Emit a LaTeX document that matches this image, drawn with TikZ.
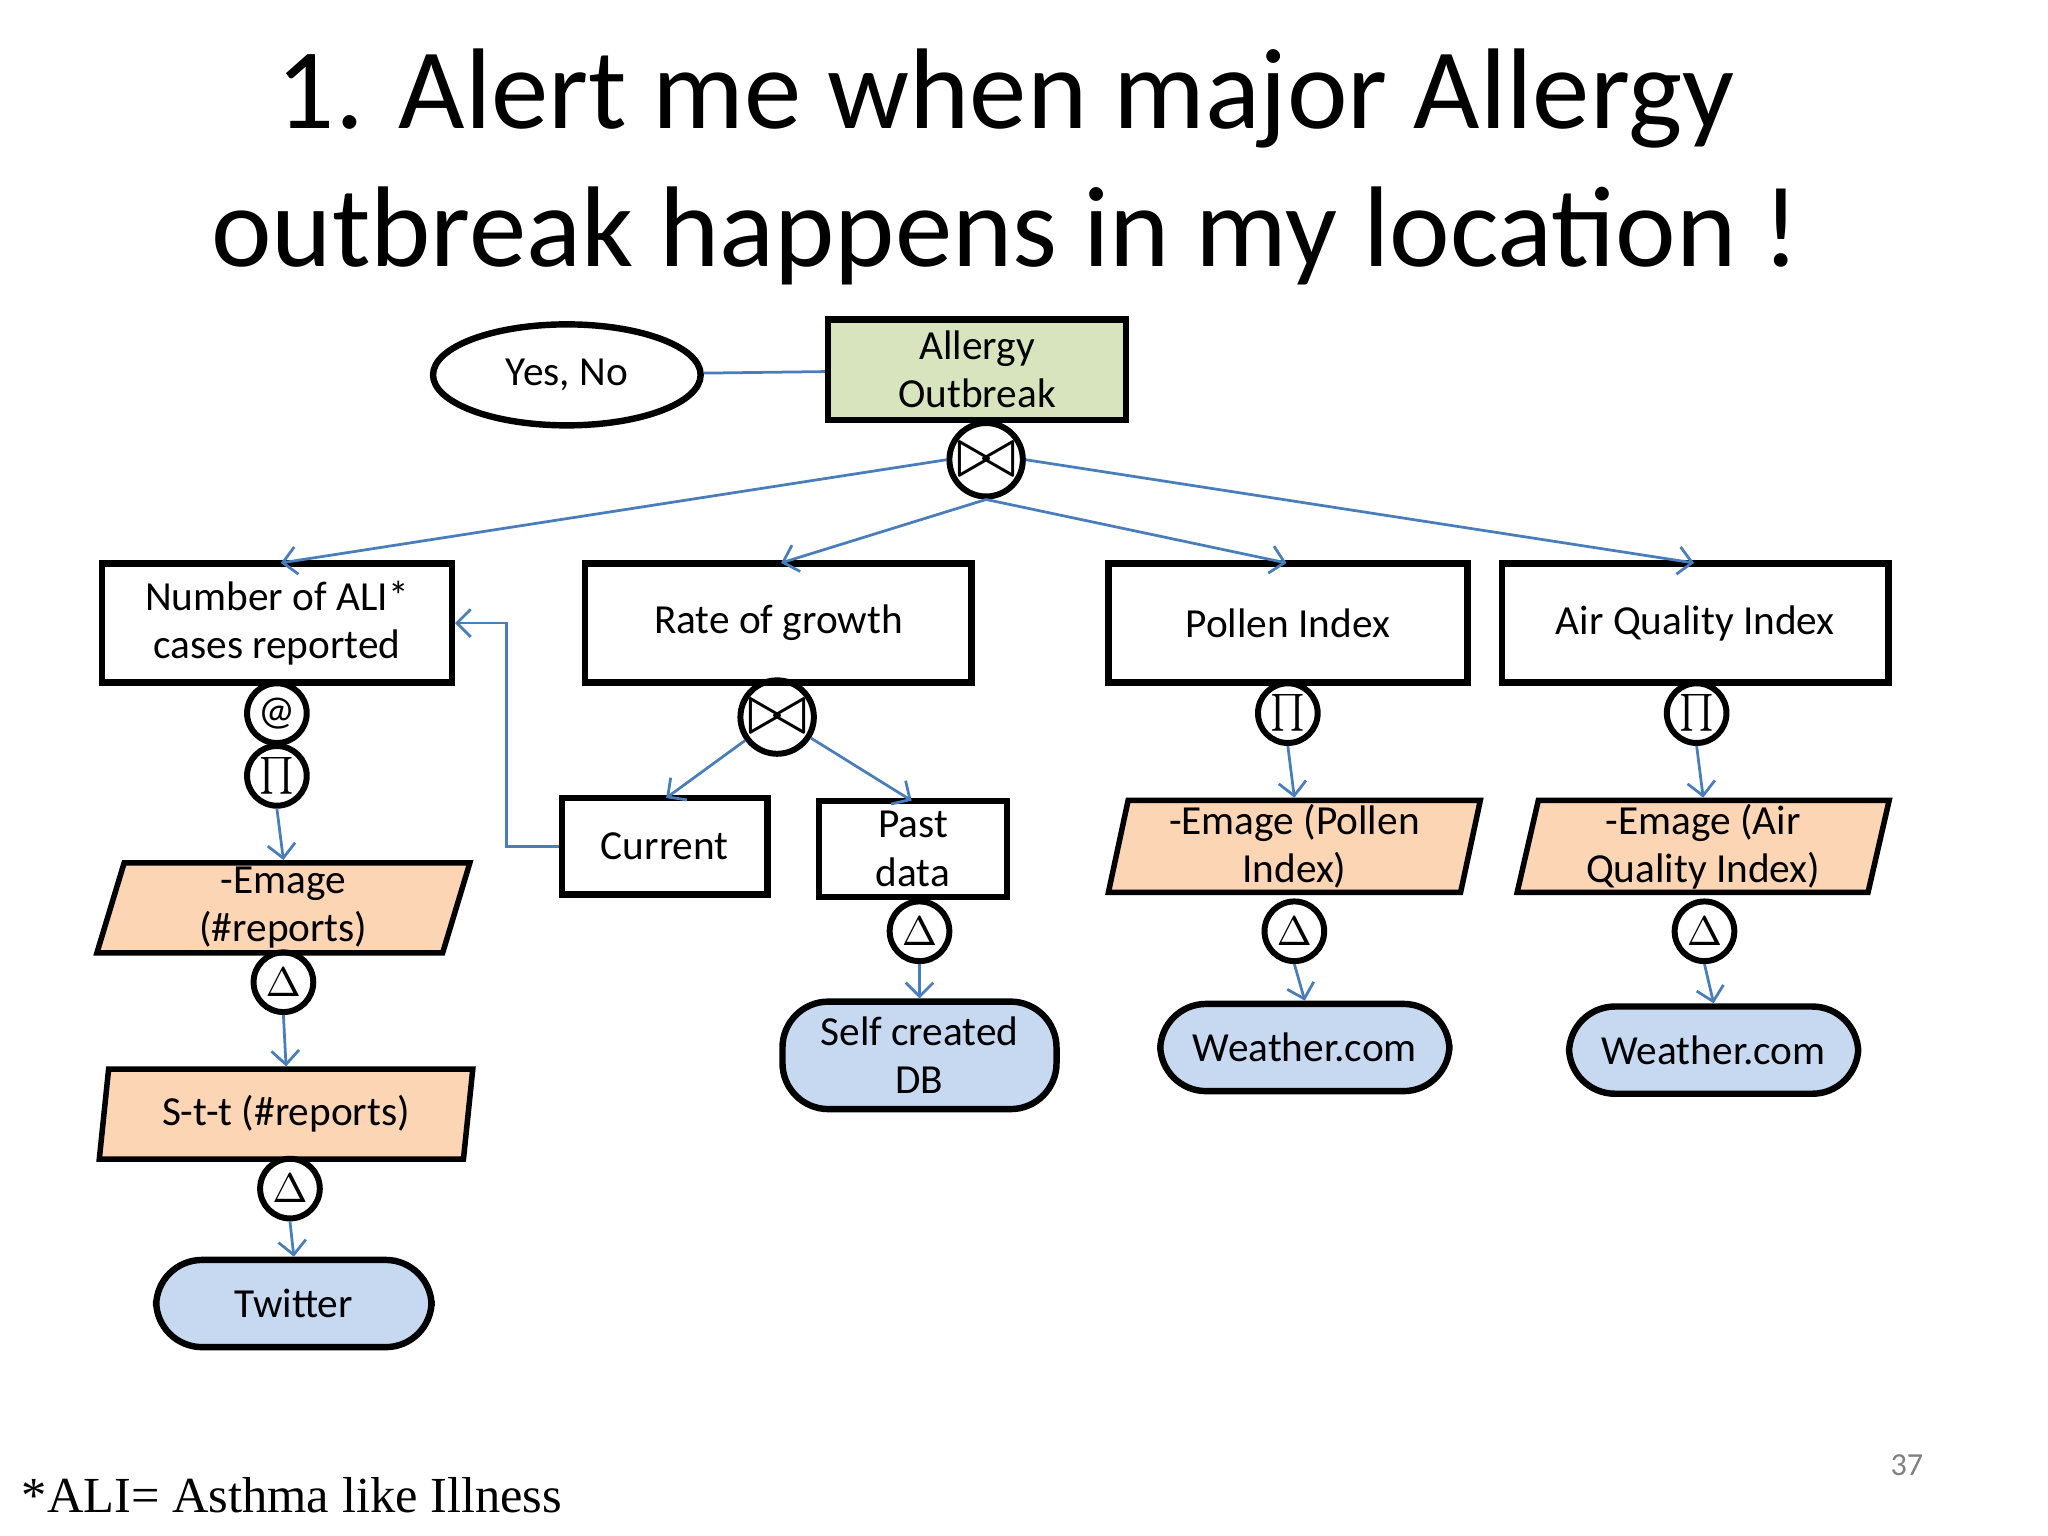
\documentclass[tikz,border=0pt]{standalone}
\usepackage{fontspec}
\setmainfont{Carlito}
\newfontfamily\timesf{Liberation Serif}
\usetikzlibrary{shapes.geometric,arrows.meta}
\definecolor{ln}{HTML}{4A7EBB}
\definecolor{gr}{HTML}{D7E4BD}
\definecolor{or}{HTML}{FCD5B5}
\definecolor{bl}{HTML}{C6D9F1}
\tikzset{
 box/.style={draw,line width=1.4pt,minimum width=#1,inner sep=1pt,align=center,font=\fontsize{9pt}{10.5pt}\selectfont},
 op/.style={circle,draw,line width=1.3pt,minimum size=13pt,inner sep=0pt,font=\fontsize{9pt}{10pt}\selectfont},
 par/.style={trapezium,trapezium stretches=true,trapezium left angle=80,trapezium right angle=100,draw,line width=1.2pt,fill=or,align=center,inner sep=0pt,minimum width=81.4pt,minimum height=19.6pt,font=\fontsize{9pt}{10.5pt}\selectfont},
 src/.style={rounded corners=10pt,draw,line width=1.4pt,fill=bl,align=center,font=\fontsize{9pt}{10.5pt}\selectfont},
 arr/.style={draw=ln,line width=0.6pt,-{Straight Barb[length=3pt,width=6pt]}},
 pl/.style={draw=ln,line width=0.6pt}
}
\newcommand{\bt}{\scalebox{1.7}{$\bowtie$}}
\newcommand{\pr}{\scalebox{0.8}{$\textstyle\prod$}}
\begin{document}
\begin{tikzpicture}[x=0.1mm,y=-0.1mm]
\useasboundingbox (0,0) rectangle (1568,1176);
\node[font=\fontsize{25pt}{30pt}\selectfont,align=center] at (770,128) {1. Alert me when major Allergy\\outbreak happens in my location !};
\node[ellipse,draw,line width=1.4pt,minimum width=58.3pt,minimum height=22pt,font=\fontsize{9pt}{10pt}\selectfont] (yn) at (434,287) {Yes, No};
\node[box=64.9pt,minimum height=21.9pt,fill=gr] (al) at (748,283) {Allergy\\Outbreak};
\node[op,minimum size=16pt] (j1) at (755,352) {\bt};
\node[box=76.2pt,minimum height=25.9pt] (n) at (212,477) {Number of ALI*\\cases reported};
\node[box=84.2pt,minimum height=25.9pt] (r) at (596,477) {Rate of growth};
\node[box=78.2pt,minimum height=25.9pt] (p) at (986,477) {Pollen Index};
\node[box=84.2pt,minimum height=25.9pt] (a) at (1298,477) {Air Quality Index};
\draw[pl] (yn) -- (al);
\draw[arr] (j1.west) -- (215,431);
\draw[arr] (j1.south) -- (598,431);
\draw[arr] (j1.south) -- (985,431);
\draw[arr] (j1.east) -- (1297,431);
\node[op] (at) at (212,546) {@};
\node[op] (pi1) at (212,594) {\pr};
\node[par] (e1) at (217,695) {-Emage\\(\#reports)};
\node[op] (d1) at (217,752) {$\Delta$};
\node[par] (s1) at (219,853) {S-t-t (\#reports)};
\node[op] (d2) at (222,910) {$\Delta$};
\node[src,minimum width=60pt,minimum height=19pt] (tw) at (225,998) {Twitter};
\draw[arr] (pi1.south) -- (e1.north);
\draw[arr] (d1.south) -- (s1.north);
\draw[arr] (d2.south) -- (tw.north);
\node[op,minimum size=16pt] (j2) at (595,549) {\bt};
\node[box=44.7pt,minimum height=21pt] (cu) at (509,648) {Current};
\node[box=41pt,minimum height=21pt] (pa) at (699,650) {Past\\data};
\node[op] (d3) at (704,713) {$\Delta$};
\node[src,minimum width=59.7pt,minimum height=23pt] (db) at (704,808) {Self created\\DB};
\draw[arr] (j2) -- (510,611);
\draw[arr] (j2) -- (698,613);
\draw[arr] (d3.south) -- (db.north);
\draw[arr] (cu.west) -- (388,648) -- (388,477) -- (n.east);
\node[op] (pi2) at (986,546) {\pr};
\node[par,minimum height=20pt] (e2) at (991,648) {-Emage (Pollen\\Index)};
\node[op] (d4) at (991,713) {$\Delta$};
\node[src,minimum width=63pt,minimum height=19pt] (w1) at (999,802) {Weather.com};
\draw[arr] (pi2.south) -- (e2.north);
\draw[arr] (d4.south) -- (w1.north);
\node[op] (pi3) at (1299,546) {\pr};
\node[par,minimum height=20pt] (e3) at (1304,648) {-Emage (Air\\Quality Index)};
\node[op] (d5) at (1305,713) {$\Delta$};
\node[src,minimum width=63pt,minimum height=19pt] (w2) at (1312,804) {Weather.com};
\draw[arr] (pi3.south) -- (e3.north);
\draw[arr] (d5.south) -- (w2.north);
\node[text=gray,font=\fontsize{7pt}{8pt}\selectfont] at (1460,1122) {37};
\node[anchor=west,font=\timesf\fontsize{11pt}{12pt}\selectfont,inner sep=0pt] at (16,1145) {*ALI= Asthma like Illness};
\end{tikzpicture}
\end{document}
